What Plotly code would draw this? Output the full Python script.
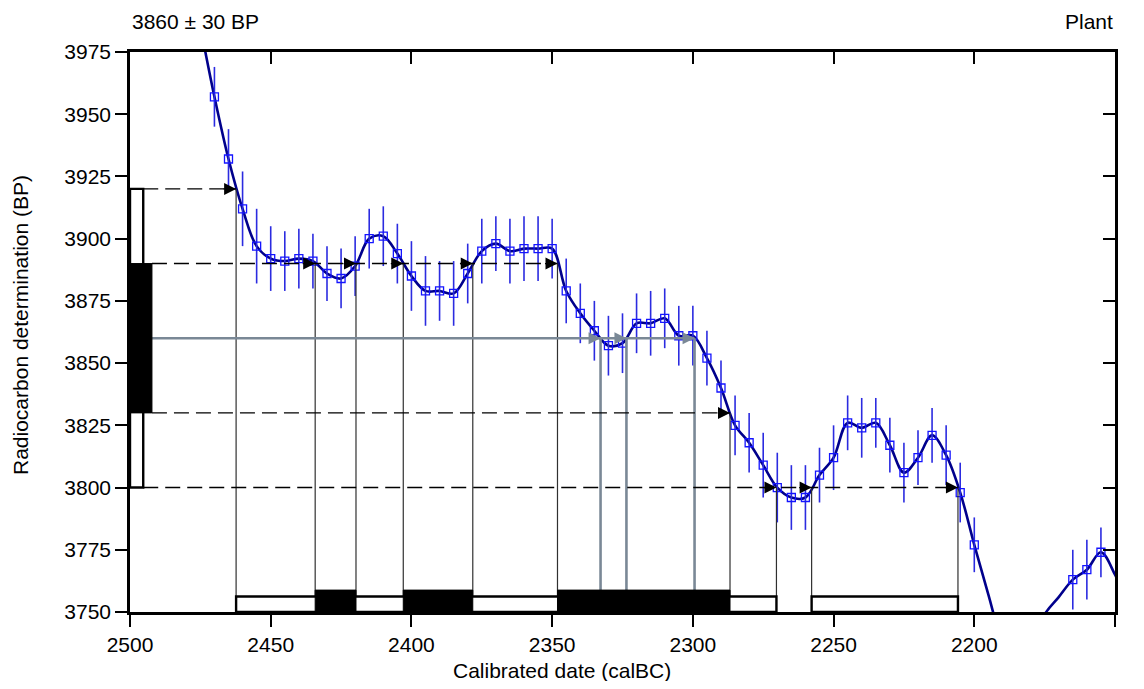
import plotly.graph_objects as go

# ---------------- data ----------------
# calibration curve (calBC, radiocarbon BP, 1-sigma error)
cal_years = [2480, 2475, 2470, 2465, 2460, 2455, 2450, 2445, 2440, 2435, 2430, 2425,
             2420, 2415, 2410, 2405, 2400, 2395, 2390, 2385, 2380, 2375, 2370, 2365,
             2360, 2355, 2350, 2345, 2340, 2335, 2330, 2325, 2320, 2315, 2310, 2305,
             2300, 2295, 2290, 2285, 2280, 2275, 2270, 2265, 2260, 2255, 2250, 2245,
             2240, 2235, 2230, 2225, 2220, 2215, 2210, 2205, 2200, 2195, 2190, 2185,
             2180, 2175, 2170, 2165, 2160, 2155, 2150, 2145]
cal_bp = [4012, 3985, 3957, 3932, 3912, 3897, 3892, 3891, 3892, 3891, 3886, 3884,
          3889, 3900, 3901, 3894, 3885, 3879, 3879, 3878, 3886, 3895, 3898, 3895,
          3896, 3896, 3896, 3879, 3870, 3863, 3857, 3858, 3866, 3866, 3868, 3861,
          3861, 3852, 3840, 3825, 3818, 3809, 3800, 3796, 3796, 3805, 3812, 3826,
          3824, 3826, 3817, 3806, 3812, 3821, 3813, 3798, 3777, 3757, 3738, 3729,
          3733, 3749, 3756, 3763, 3767, 3774, 3765, 3752]
cal_err = [12, 12, 12, 12, 15, 15, 13, 12, 12, 11, 11, 12,
           12, 12, 12, 12, 14, 14, 12, 13, 12, 13, 11, 13,
           13, 13, 12, 13, 12, 12, 12, 12, 12, 13, 12, 12,
           12, 11, 11, 12, 12, 13, 14, 13, 13, 11, 13, 11,
           12, 10, 11, 12, 11, 11, 12, 12, 11, 12, 12, 12,
           12, 12, 12, 12, 12, 10, 10, 10]

# measurement
sample_bp = 3860
sample_err = 30
label_left = "3860 ± 30 BP"
label_right = "Plant"

# curve crossing dates (calBC)
cross_1s_upper = [2434.2, 2419.7, 2402.9, 2378.2, 2348.1]
cross_1s_lower = [2286.8]
cross_2s_upper = [2462.3]
cross_2s_lower = [2270.3, 2257.8, 2205.8]
cross_mean = [2332.8, 2323.6, 2299.4]

# axes
x_ticks = [2500, 2450, 2400, 2350, 2300, 2250, 2200, 2150]
y_ticks = [3750, 3775, 3800, 3825, 3850, 3875, 3900, 3925, 3950, 3975]
x_title = "Calibrated date (calBC)"
y_title = "Radiocarbon determination (BP)"

# ---------------- figure ----------------
X0, X1 = 2500, 2150
Y0, Y1 = 3750, 3975

lvl_1s_hi = sample_bp + sample_err
lvl_1s_lo = sample_bp - sample_err
lvl_2s_hi = sample_bp + 2 * sample_err
lvl_2s_lo = sample_bp - 2 * sample_err

# left-hand box widths (in years from axis)
w2 = 4.7
w1 = 7.8
bar2_top = 3756.2
bar1_top = 3758.8

fig = go.Figure()

fig.add_trace(go.Scatter(
    x=cal_years, y=cal_bp, mode="lines",
    line=dict(color="#00008c", width=2.6, shape="spline", smoothing=1.0),
    hoverinfo="skip", showlegend=False))

mx, my, me = [], [], []
for yr, bp, er in zip(cal_years, cal_bp, cal_err):
    if X1 < yr < X0 and bp - er >= Y0 and bp + er <= Y1:
        mx.append(yr); my.append(bp); me.append(er)

fig.add_trace(go.Scatter(
    x=mx, y=my, mode="markers",
    marker=dict(symbol="square-open", size=8, color="#1414ff", line=dict(width=1.3)),
    error_y=dict(type="data", array=me, color="#2b2be0", thickness=1.6, width=0),
    hoverinfo="skip", showlegend=False))

# dummy trace for mirrored axes
fig.add_trace(go.Scatter(x=[], y=[], xaxis="x2", yaxis="y2", showlegend=False))

shapes = []
thin = dict(color="#303030", width=1.2)
grey = "#7a8896"

# vertical lines from crossings down to the bars
for c in cross_2s_upper:
    shapes.append(dict(type="line", x0=c, x1=c, y0=lvl_2s_hi, y1=Y0, line=thin))
for c in cross_2s_lower:
    shapes.append(dict(type="line", x0=c, x1=c, y0=lvl_2s_lo, y1=Y0, line=thin))
for c in cross_1s_upper:
    shapes.append(dict(type="line", x0=c, x1=c, y0=lvl_1s_hi, y1=Y0, line=thin))
for c in cross_1s_lower:
    shapes.append(dict(type="line", x0=c, x1=c, y0=lvl_1s_lo, y1=Y0, line=thin))
for c in cross_mean:
    shapes.append(dict(type="line", x0=c, x1=c, y0=sample_bp, y1=Y0,
                       line=dict(color=grey, width=2.6)))

# horizontal dashed lines
dash = dict(color="black", width=1.4, dash="15px,7px")
shapes.append(dict(type="line", x0=X0 - w2, x1=min(cross_2s_upper), y0=lvl_2s_hi, y1=lvl_2s_hi, line=dash))
shapes.append(dict(type="line", x0=X0 - w2, x1=min(cross_2s_lower), y0=lvl_2s_lo, y1=lvl_2s_lo, line=dash))
shapes.append(dict(type="line", x0=X0 - w1, x1=min(cross_1s_upper), y0=lvl_1s_hi, y1=lvl_1s_hi, line=dash))
shapes.append(dict(type="line", x0=X0 - w1, x1=min(cross_1s_lower), y0=lvl_1s_lo, y1=lvl_1s_lo, line=dash))
shapes.append(dict(type="line", x0=X0 - w1, x1=min(cross_mean), y0=sample_bp, y1=sample_bp,
                   line=dict(color=grey, width=2.6)))

# left boxes (measurement)
shapes.append(dict(type="rect", x0=X0, x1=X0 - w2, y0=lvl_2s_lo, y1=lvl_2s_hi,
                   fillcolor="white", line=dict(color="black", width=2.4)))
shapes.append(dict(type="rect", x0=X0, x1=X0 - w1, y0=lvl_1s_lo, y1=lvl_1s_hi,
                   fillcolor="black", line=dict(color="black", width=1)))

# bottom range bars
c2 = sorted(cross_2s_upper + cross_2s_lower, reverse=True)
for a, b in zip(c2[0::2], c2[1::2]):
    shapes.append(dict(type="rect", x0=a, x1=b, y0=Y0, y1=bar2_top,
                       fillcolor="white", line=dict(color="black", width=2.4)))
c1 = sorted(cross_1s_upper + cross_1s_lower, reverse=True)
for a, b in zip(c1[0::2], c1[1::2]):
    shapes.append(dict(type="rect", x0=a, x1=b, y0=Y0, y1=bar1_top,
                       fillcolor="black", line=dict(color="black", width=1)))

annotations = []
def arrow(xv, yv, col):
    annotations.append(dict(x=xv, y=yv, xref="x", yref="y", ax=-14, ay=0,
                            text="", showarrow=True, arrowhead=2, arrowsize=2.0,
                            arrowwidth=1.2, arrowcolor=col, standoff=0))

for c in cross_2s_upper:
    arrow(c, lvl_2s_hi, "black")
for c in cross_2s_lower:
    arrow(c, lvl_2s_lo, "black")
for c in cross_1s_upper:
    arrow(c, lvl_1s_hi, "black")
for c in cross_1s_lower:
    arrow(c, lvl_1s_lo, "black")
for c in cross_mean:
    arrow(c, sample_bp, grey)

FS = 21
FONT = "Liberation Sans, Arial, sans-serif"
annotations.append(dict(text=label_left, xref="paper", yref="paper", x=0, y=1,
                        xanchor="left", yanchor="middle", yshift=31, showarrow=False,
                        font=dict(size=FS)))
annotations.append(dict(text=label_right, xref="paper", yref="paper", x=1, y=1,
                        xanchor="right", yanchor="middle", yshift=31, showarrow=False,
                        font=dict(size=FS)))
annotations.append(dict(text=x_title, xref="paper", yref="paper", x=(562 - 130) / 985,
                        y=1 - (670 - 52) / 560, xanchor="center", yanchor="middle",
                        showarrow=False, font=dict(size=FS)))
annotations.append(dict(text=y_title, xref="paper", yref="paper", x=(20 - 130) / 985,
                        y=1 - (325 - 52) / 560, xanchor="center", yanchor="middle",
                        textangle=-90, showarrow=False, font=dict(size=FS)))

axis_common = dict(showgrid=False, zeroline=False, showline=True, linecolor="black",
                   linewidth=2.5, tickwidth=2, ticklen=12, tickcolor="black",
                   automargin=False)

# page body keeps its default 8px margin: plot area lands at x 130..1115, y 52..612
fig.update_layout(
    width=1128, height=673,
    margin=dict(l=122, r=21, t=44, b=69),
    plot_bgcolor="white", paper_bgcolor="white",
    font=dict(family=FONT, size=FS, color="black"),
    showlegend=False,
    shapes=shapes, annotations=annotations,
    xaxis=dict(range=[X0, X1], tickvals=x_ticks, ticks="outside", **axis_common),
    xaxis2=dict(range=[X0, X1], tickvals=x_ticks, ticks="inside", overlaying="x",
                side="top", anchor="y", showticklabels=False, **axis_common),
    yaxis=dict(range=[Y0, Y1], tickvals=y_ticks, ticks="outside", **axis_common),
    yaxis2=dict(range=[Y0, Y1], tickvals=y_ticks, ticks="inside", overlaying="y",
                side="right", anchor="x", showticklabels=False, **axis_common),
)

fig.write_html("out.html", config={"displayModeBar": False})
